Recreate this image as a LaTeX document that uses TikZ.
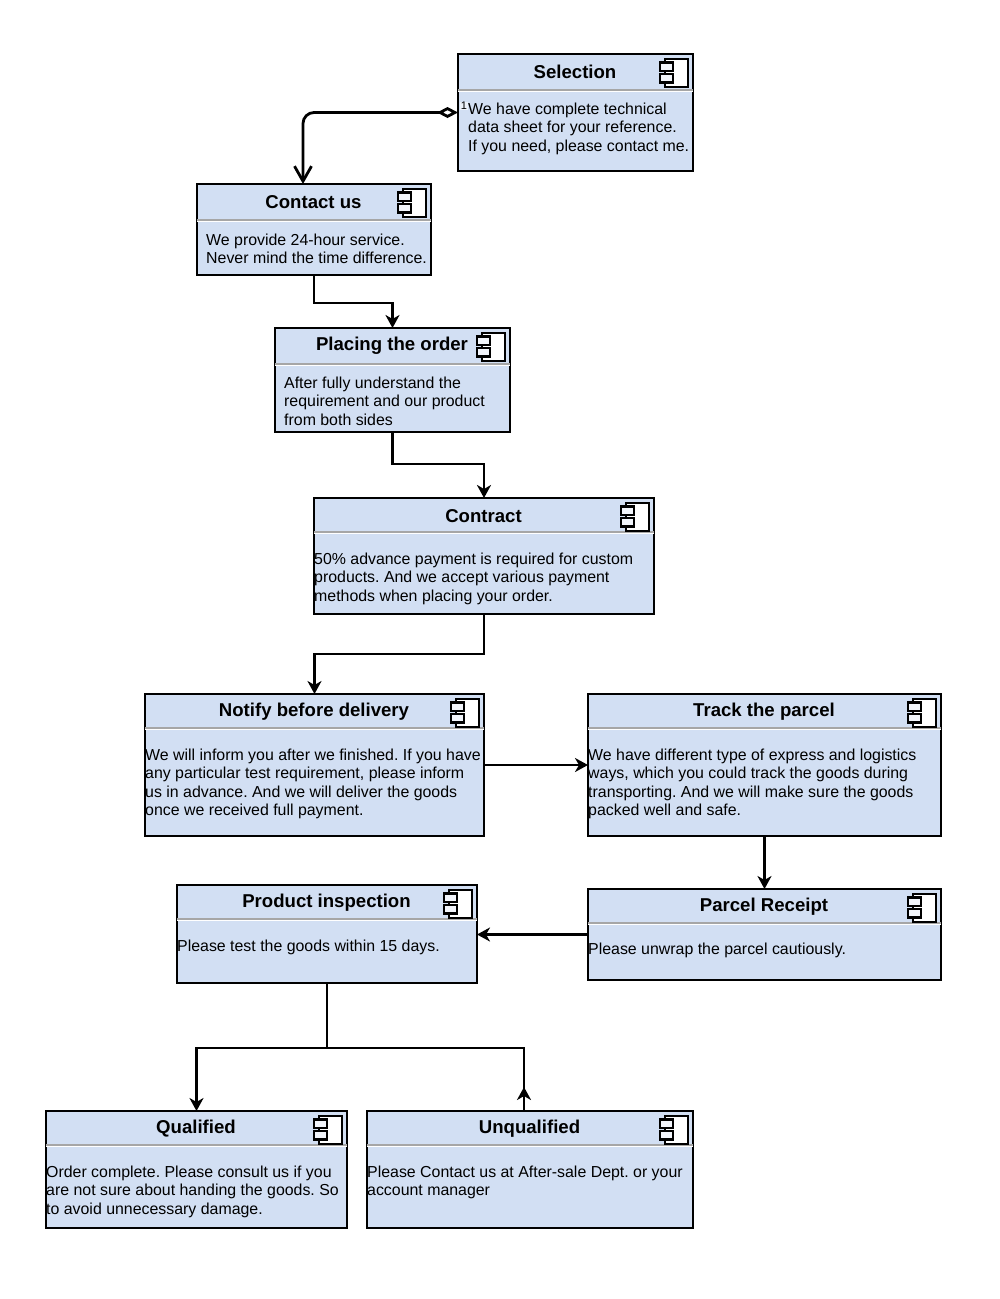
\documentclass[tikz,border=0pt]{standalone}
\usepackage{fontspec}
\setmainfont{Liberation Sans}
\frenchspacing
\usetikzlibrary{arrows.meta,calc,positioning}
\definecolor{boxblue}{HTML}{D2DFF3}
\tikzset{
	compbox/.style={draw=black,line width=2.8pt,fill=boxblue,rectangle,anchor=north west,inner sep=0pt,outer sep=0pt},
	comptitle/.style={font=\fontsize{18.6}{20}\selectfont\bfseries,inner sep=0pt},
	compbody/.style={font=\fontsize{15.9}{18.2}\selectfont,align=left,anchor=north west,inner sep=0pt},
	conn/.style={line width=2.8pt,draw=black},
	head/.style={-{Stealth[length=13pt,width=14pt,inset=4pt]}},
	icon/.style={draw=black,line width=2.8pt,fill=white},
	icontab/.style={draw=black,line width=2.2pt,fill=boxblue!30!white}
}
\newcommand{\rulegap}{36}
% name, left, top, right, bottom, title, body x, first line y, body
\newcommand{\compnode}[9]{
	\node[compbox,minimum width={#4-#2},minimum height={#5-#3}] (#1) at (#2,#3) {};
	\draw[gray!70,line width=1.5pt] (#2,#3+\rulegap) -- (#4,#3+\rulegap);
	\draw[white,line width=1pt] (#2,#3+\rulegap+1.5) -- (#4,#3+\rulegap+1.5);
	\node[comptitle] (#1title) at ({(#2+#4)/2-0.5},#3+18) {#6};
	\draw[icon] (#4-28,#3+5) rectangle (#4-5,#3+33);
	\draw[icontab] (#4-33,#3+8.5) rectangle (#4-20,#3+17);
	\draw[icontab] (#4-33,#3+20) rectangle (#4-20,#3+28.5);
	\node[compbody] (#1body) at (#7,#8-6) {#9};
}
\begin{document}
\begin{tikzpicture}[x=1pt,y=-1pt]
	\useasboundingbox (0,0) rectangle (1000,1299);
	\fill[white] (0,0) rectangle (1000,1299);
	\compnode{selection}{458}{54}{693}{171}{Selection}{468}{109}{We have complete technical\\data sheet for your reference.\\If you need, please contact me.}
	\compnode{contact}{197}{184}{431}{275}{Contact us}{206}{240}{We provide 24-hour service.\\Never mind the time difference.}
	\compnode{placing}{275}{328}{510}{432}{Placing the order}{284}{383}{After fully understand the\\requirement and our product\\from both sides}
	\renewcommand{\rulegap}{34}
	\compnode{contract}{314}{498}{654}{614}{Contract}{314}{559}{50\% advance payment is required for custom\\products. And we accept various payment\\methods when placing your order.}
	\compnode{notify}{145}{694}{484}{836}{Notify before delivery}{145}{755}{We will inform you after we finished. If you have\\any particular test requirement, please inform\\us in advance. And we will deliver the goods\\once we received full payment.}
	\compnode{track}{588}{694}{941}{836}{Track the parcel}{588}{755}{We have different type of express and logistics\\ways, which you could track the goods during\\transporting. And we will make sure the goods\\packed well and safe.}
	\compnode{parcel}{588}{889}{941}{980}{Parcel Receipt}{588}{949}{Please unwrap the parcel cautiously.}
	\compnode{inspection}{177}{885}{477}{983}{Product inspection}{177}{946}{Please test the goods within 15 days.}
	\compnode{qualified}{46}{1111}{347}{1228}{Qualified}{46}{1172}{Order complete. Please consult us if you\\are not sure about handing the goods. So\\to avoid unnecessary damage.}
	\compnode{unqualified}{367}{1111}{693}{1228}{Unqualified}{367}{1172}{Please Contact us at After-sale Dept. or your\\account manager}
	\node[font=\fontsize{11}{11}\selectfont,inner sep=0.5pt,fill=white!60!boxblue] (one) at (464,106) {1};
	% connectors
	\draw[conn,rounded corners=11pt,{Diamond[open,fill=white,length=21pt,width=11pt]}-{Straight Barb[length=15pt,width=17pt]}] (selection.west) -| ([xshift=-11pt]contact.north);
	\draw[conn,head] (contact.south) -- ++(0,28) -| (placing.north);
	\draw[conn,head] (placing.south) -- ++(0,32) -| (contract.north);
	\draw[conn,head] (contract.south) -- ++(0,40) -| (notify.north);
	\draw[conn,head] (notify.east) -- (track.west);
	\draw[conn,head] (track.south) -- (parcel.north);
	\draw[conn,head] (parcel.west) -- (parcel.west -| inspection.east);
	\draw[conn,head] (inspection.south) -- ++(0,65) -| (qualified.north);
	\draw[conn] (inspection.south) -- ++(0,65) -| ([xshift=-6pt]unqualified.north);
	\draw[conn,head] ([xshift=-6pt]unqualified.north) -- ++(0,-24);
\end{tikzpicture}
\end{document}
